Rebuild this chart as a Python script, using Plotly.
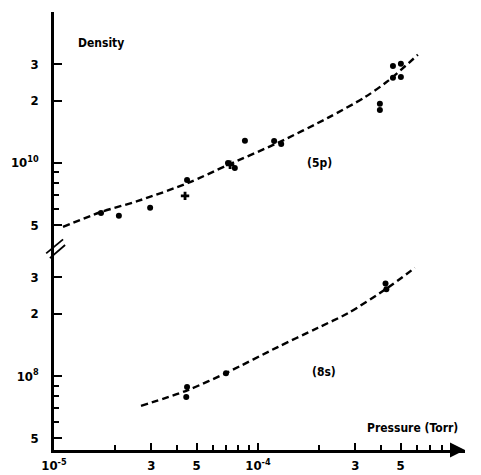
import plotly.graph_objects as go

# ---- data ----
# (5p) state: measured points (pressure in Torr, density)
p5_dot_x = [1.70e-5, 2.08e-5, 2.96e-5, 4.49e-5, 7.13e-5, 7.7e-5, 8.63e-5, 1.20e-4, 1.30e-4,
            3.96e-4, 3.96e-4, 4.59e-4, 5.02e-4, 4.59e-4, 5.02e-4]
p5_dot_y = [5.73e9, 5.55e9, 6.07e9, 8.28e9, 1.0e10, 9.46e9, 1.28e10, 1.277e10, 1.235e10,
            1.93e10, 1.80e10, 2.94e10, 3.01e10, 2.58e10, 2.60e10]
p5_cross_x = [4.39e-5, 7.3e-5]
p5_cross_y = [6.93e9, 9.8e9]
# (5p) dashed fit curve
p5_fit_x = [1.107e-5, 1.70e-5, 2.58e-5, 4.54e-5, 7.13e-5, 1.25e-4, 2.20e-4, 3.35e-4, 4.34e-4, 6.08e-4]
p5_fit_y = [4.91e9, 5.79e9, 6.55e9, 8.0e9, 9.78e9, 1.25e10, 1.65e10, 2.08e10, 2.49e10, 3.33e10]

# (8s) state
s8_dot_x = [4.49e-5, 4.45e-5, 6.97e-5, 4.22e-4, 4.26e-4]
s8_dot_y = [8.85e7, 7.92e7, 1.03e8, 2.80e8, 2.62e8]
s8_fit_x = [2.67e-5, 4.54e-5, 7.13e-5, 1.25e-4, 1.97e-4, 2.76e-4, 4.24e-4, 5.88e-4]
s8_fit_y = [7.17e7, 8.56e7, 1.045e8, 1.38e8, 1.71e8, 2.01e8, 2.63e8, 3.33e8]

x_major_vals = [1e-5, 3e-5, 5e-5, 1e-4, 3e-4, 5e-4]
x_major_text = ["10<sup>-5</sup>", "3", "5", "10<sup>-4</sup>", "3", "5"]
x_minor_vals = [2e-5, 4e-5, 6e-5, 7e-5, 8e-5, 9e-5, 2e-4, 4e-4, 6e-4, 7e-4, 8e-4, 9e-4]

yu_major_vals = [5e9, 1e10, 2e10, 3e10]
yu_major_text = ["5", "10<sup>10</sup>", "2", "3"]
yu_minor_vals = [6e9, 7e9, 8e9, 9e9]
yl_major_vals = [5e7, 1e8, 2e8, 3e8]
yl_major_text = ["5", "10<sup>8</sup>", "2", "3"]
yl_minor_vals = [6e7, 7e7, 8e7, 9e7]

FONT = "DejaVu Sans Condensed, DejaVu Sans, sans-serif"
INK = "black"

fig = go.Figure()
dash = "7px,4px"
fig.add_trace(go.Scatter(x=p5_fit_x, y=p5_fit_y, yaxis="y2", mode="lines",
                         line=dict(color=INK, width=2.4, dash=dash, shape="spline", smoothing=0.8),
                         hoverinfo="skip"))
fig.add_trace(go.Scatter(x=p5_dot_x, y=p5_dot_y, yaxis="y2", mode="markers",
                         marker=dict(color=INK, size=6, symbol="circle")))
fig.add_trace(go.Scatter(x=p5_cross_x, y=p5_cross_y, yaxis="y2", mode="markers",
                         marker=dict(color=INK, size=7, symbol="cross")))
fig.add_trace(go.Scatter(x=s8_fit_x, y=s8_fit_y, yaxis="y", mode="lines",
                         line=dict(color=INK, width=2.4, dash=dash, shape="spline", smoothing=0.8),
                         hoverinfo="skip"))
fig.add_trace(go.Scatter(x=s8_dot_x, y=s8_dot_y, yaxis="y", mode="markers",
                         marker=dict(color=INK, size=6, symbol="circle")))

tickfont = dict(family=FONT, size=13, color=INK, weight="bold")
split = 0.4612

fig.update_layout(
    width=473, height=467,
    margin=dict(l=46, r=16, t=4, b=25),
    paper_bgcolor="white", plot_bgcolor="white",
    showlegend=False,
    xaxis=dict(type="log", range=[-5, -2.985], anchor="y", automargin=False,
               showline=True, linecolor=INK, linewidth=2.5, showgrid=False, zeroline=False,
               ticks="inside", ticklen=7, tickwidth=1.5, tickcolor=INK,
               tickmode="array", tickvals=x_major_vals, ticktext=x_major_text,
               tickfont=tickfont, ticklabelstandoff=2,
               minor=dict(tickmode="array", tickvals=x_minor_vals, ticks="inside",
                          ticklen=5, tickwidth=1.5, tickcolor=INK, showgrid=False)),
    yaxis=dict(type="log", range=[7.643, 8.618], domain=[0, split], anchor="x", automargin=False,
               showline=True, linecolor=INK, linewidth=2.5, showgrid=False, zeroline=False,
               ticks="inside", ticklen=8, tickwidth=1.5, tickcolor=INK,
               tickmode="array", tickvals=yl_major_vals, ticktext=yl_major_text,
               tickfont=tickfont, ticklabelstandoff=10,
               minor=dict(tickmode="array", tickvals=yl_minor_vals, ticks="inside",
                          ticklen=5, tickwidth=1.5, tickcolor=INK, showgrid=False)),
    yaxis2=dict(type="log", range=[9.589, 10.729], domain=[split, 1], anchor="x", automargin=False,
                showline=True, linecolor=INK, linewidth=2.5, showgrid=False, zeroline=False,
                ticks="inside", ticklen=8, tickwidth=1.5, tickcolor=INK,
                tickmode="array", tickvals=yu_major_vals, ticktext=yu_major_text,
                tickfont=tickfont, ticklabelstandoff=10,
                minor=dict(tickmode="array", tickvals=yu_minor_vals, ticks="inside",
                           ticklen=5, tickwidth=1.5, tickcolor=INK, showgrid=False)),
)

lab = dict(family=FONT, size=12, color=INK, weight="bold")
fig.add_annotation(text="Density", xref="paper", yref="paper", x=0.0535, y=0.929,
                   xanchor="left", yanchor="middle", showarrow=False, font=lab)
fig.add_annotation(text="(5p)", xref="paper", yref="paper", x=0.647, y=0.655,
                   xanchor="center", yanchor="middle", showarrow=False, font=lab)
fig.add_annotation(text="(8s)", xref="paper", yref="paper", x=0.657, y=0.178,
                   xanchor="center", yanchor="middle", showarrow=False, font=lab)
fig.add_annotation(text="Pressure (Torr)", xref="paper", yref="paper", x=0.757, y=0.050,
                   xanchor="left", yanchor="middle", showarrow=False, font=lab)

# axis arrowheads
fig.add_annotation(text="", xref="paper", yref="paper", x=1.0, y=0, ax=-14, ay=0,
                   showarrow=True, arrowhead=2, arrowsize=1.2, arrowwidth=2.5, arrowcolor=INK)

# axis break marks
for (x0, y0, x1, y1) in [(-0.019, 0.449, 0.022, 0.481), (-0.010, 0.438, 0.027, 0.468)]:
    fig.add_shape(type="line", xref="paper", yref="paper", x0=x0, y0=y0, x1=x1, y1=y1,
                  line=dict(color=INK, width=1.8))

fig.write_html("out.html")
